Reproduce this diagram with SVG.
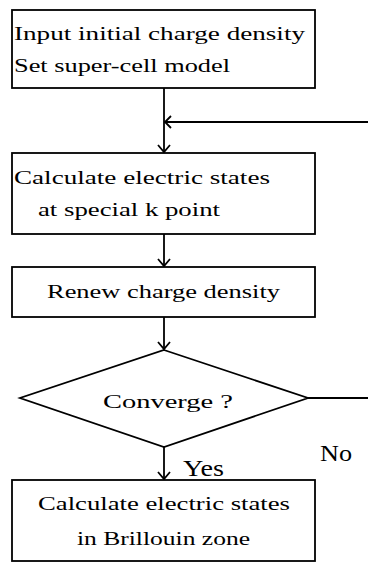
<svg xmlns="http://www.w3.org/2000/svg" width="368" height="562" viewBox="0 0 368 562">
<style>
.box{fill:#fff;stroke:#000;stroke-width:1.8}
.ln{fill:none;stroke:#000;stroke-width:1.8}
.ah{fill:none;stroke:#000;stroke-width:1.8}
text{font-family:"Liberation Serif","Times New Roman",serif;font-size:19px;fill:#000}
.big{font-size:24px}
</style>
<rect width="368" height="562" fill="#fff"/>
<g id="connectors">
<path class="ln" d="M164 88 V152"/>
<path class="ah" d="M158 145 L164 152 L170 145"/>
<path class="ln" d="M368 122 H165"/>
<path class="ah" d="M171 116 L165 122 L171 128"/>
<path class="ln" d="M164 234 V266"/>
<path class="ah" d="M158 259 L164 266 L170 259"/>
<path class="ln" d="M164 317 V349"/>
<path class="ah" d="M158 342 L164 349 L170 342"/>
<path class="ln" d="M164 447 V479"/>
<path class="ah" d="M158 472 L164 479 L170 472"/>
<path class="ln" d="M308 398 H368"/>
<text x="183" y="476" class="big" textLength="41" lengthAdjust="spacingAndGlyphs">Yes</text>
<text x="320" y="461" class="big" textLength="32" lengthAdjust="spacingAndGlyphs">No</text>
</g>
<g id="n1">
<rect class="box" x="12" y="10" width="303" height="78"/>
<text x="14" y="40" textLength="291" lengthAdjust="spacingAndGlyphs">Input initial charge density</text>
<text x="14" y="72" textLength="216" lengthAdjust="spacingAndGlyphs">Set super-cell model</text>
</g>
<g id="n2">
<rect class="box" x="12" y="153" width="303" height="81"/>
<text x="14" y="184" textLength="256" lengthAdjust="spacingAndGlyphs">Calculate electric states</text>
<text x="38" y="216" textLength="182" lengthAdjust="spacingAndGlyphs">at special k point</text>
</g>
<g id="n3">
<rect class="box" x="12" y="267" width="303" height="50"/>
<text x="47" y="298" textLength="233" lengthAdjust="spacingAndGlyphs">Renew charge density</text>
</g>
<g id="n4">
<polygon class="box" points="164,350 308,398 164,447 20,398"/>
<text x="103" y="408" textLength="130" lengthAdjust="spacingAndGlyphs">Converge ?</text>
</g>
<g id="n5">
<rect class="box" x="12" y="480" width="303" height="81"/>
<text x="38" y="510" textLength="252" lengthAdjust="spacingAndGlyphs">Calculate electric states</text>
<text x="77" y="545" textLength="173" lengthAdjust="spacingAndGlyphs">in Brillouin zone</text>
</g>
</svg>
